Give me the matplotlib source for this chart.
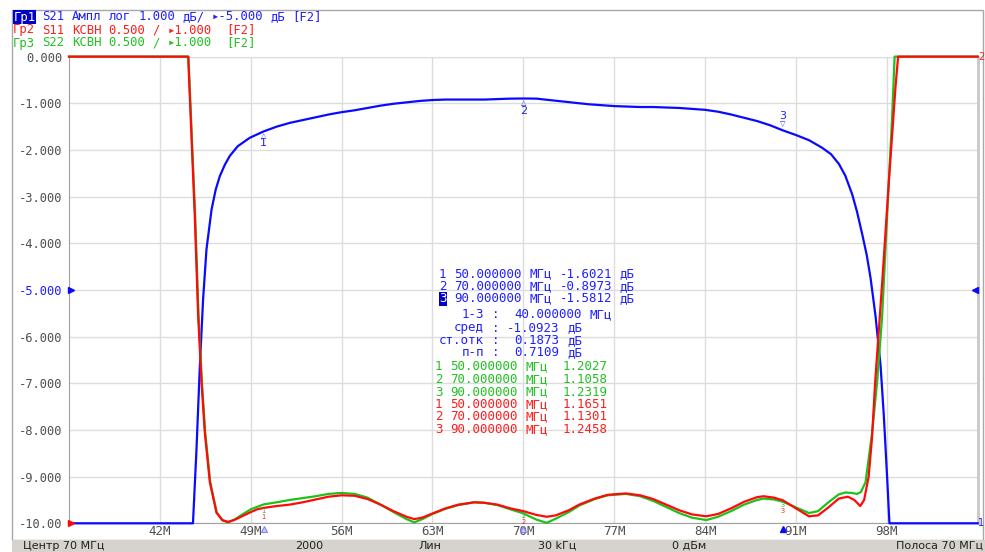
import re
import numpy as np
import matplotlib.pyplot as plt
from matplotlib.patches import Rectangle

W, H = 985, 552

# S21 transmission, dB (1 dB/div, ref -5 dB at centre)
s21_f = [35.0, 44.55, 44.82, 45.08, 45.33, 45.59, 45.98, 46.3, 46.62, 47.0, 47.38,
         48.0, 48.92, 50.0, 51.0, 52.0, 53.0, 54.0, 55.0, 56.0, 57.0, 58.0, 59.0,
         60.0, 61.0, 62.0, 63.0, 64.0, 65.0, 66.0, 67.0, 68.0, 69.0, 70.0, 71.0,
         72.0, 73.0, 74.0, 75.0, 76.0, 77.0, 78.0, 79.0, 80.0, 81.0, 82.0, 83.0,
         84.0, 85.0, 86.0, 87.0, 88.0, 89.0, 90.0, 91.0, 92.0, 93.0, 93.7, 94.31,
         94.8, 95.33, 95.7, 96.1, 96.45, 96.75, 97.13, 97.52, 97.77, 98.02, 98.2, 105.0]
s21_db = [-10.0, -10.0, -8.42, -6.63, -5.2, -4.13, -3.28, -2.85, -2.56, -2.32, -2.13,
          -1.92, -1.74, -1.6021, -1.50, -1.42, -1.36, -1.30, -1.24, -1.19, -1.15, -1.10, -1.05,
          -1.01, -0.98, -0.95, -0.93, -0.92, -0.92, -0.92, -0.92, -0.91, -0.90, -0.8973, -0.90,
          -0.93, -0.96, -0.99, -1.02, -1.04, -1.06, -1.07, -1.08, -1.08, -1.09, -1.10, -1.12,
          -1.14, -1.18, -1.24, -1.31, -1.38, -1.47, -1.5812, -1.68, -1.79, -1.95, -2.09, -2.30,
          -2.55, -2.95, -3.32, -3.80, -4.25, -4.75, -5.56, -6.63, -7.7, -9.0, -10.0, -10.0]

# S11 VSWR (0.5/div, ref 1.000 at bottom line)
s11_f = [35.0, 44.18, 44.69, 44.95, 45.21, 45.46, 45.85, 46.36, 46.8, 47.25, 47.8,
         48.4, 48.92, 49.5, 50.0, 51.0, 52.0, 53.0, 54.0, 55.0, 56.0, 57.0, 58.0,
         59.0, 60.0, 61.0, 61.6, 62.2, 63.0, 64.0, 65.0, 66.2, 67.0, 68.0, 69.0,
         70.0, 71.0, 71.8, 72.5, 73.5, 74.3, 75.5, 76.5, 77.9, 79.0, 80.0, 81.0,
         82.0, 83.0, 84.1, 85.0, 86.0, 87.0, 88.0, 88.5, 89.3, 90.0, 91.0, 92.0,
         92.7, 93.5, 94.3, 95.0, 95.5, 95.95, 96.25, 96.6, 96.85, 97.1, 97.64, 98.15,
         98.67, 98.87, 105.0]
s11_vswr = [6.0, 6.0, 4.29, 3.22, 2.51, 1.975, 1.44, 1.115, 1.035, 1.015, 1.04,
            1.08, 1.115, 1.15, 1.1651, 1.185, 1.20, 1.225, 1.255, 1.285, 1.30, 1.295, 1.26,
            1.20, 1.13, 1.07, 1.045, 1.06, 1.105, 1.16, 1.20, 1.225, 1.22, 1.20, 1.16,
            1.1301, 1.09, 1.07, 1.085, 1.14, 1.20, 1.265, 1.305, 1.32, 1.30, 1.26, 1.20,
            1.14, 1.095, 1.075, 1.10, 1.16, 1.23, 1.28, 1.29, 1.275, 1.2458, 1.16, 1.075,
            1.085, 1.17, 1.265, 1.285, 1.25, 1.185, 1.25, 1.50, 1.90, 2.51, 3.575, 4.65,
            5.68, 6.0, 6.0]

# S22 VSWR
s22_f = [35.0, 44.2, 44.72, 44.98, 45.24, 45.49, 45.88, 46.38, 46.85, 47.25, 47.7,
         48.3, 49.0, 50.0, 51.0, 52.0, 53.0, 54.0, 55.0, 56.0, 57.0, 58.0, 59.0,
         60.0, 61.0, 61.6, 62.3, 63.0, 64.0, 65.0, 66.2, 67.0, 68.0, 69.0, 70.0,
         71.0, 71.8, 72.5, 73.5, 74.3, 75.5, 76.5, 77.9, 79.0, 80.0, 81.0, 82.0,
         83.0, 84.1, 85.0, 86.0, 87.0, 88.0, 88.5, 89.3, 90.0, 91.0, 92.0, 92.7,
         93.5, 94.3, 94.8, 95.3, 95.7, 96.0, 96.36, 96.87, 97.25, 97.64, 98.02, 98.41,
         98.6, 105.0]
s22_vswr = [6.0, 6.0, 4.29, 3.22, 2.51, 1.975, 1.44, 1.115, 1.03, 1.01, 1.035,
            1.09, 1.15, 1.2027, 1.225, 1.25, 1.27, 1.29, 1.315, 1.325, 1.315, 1.275, 1.20,
            1.12, 1.045, 1.01, 1.05, 1.10, 1.155, 1.195, 1.225, 1.22, 1.195, 1.15, 1.1058,
            1.04, 1.005, 1.05, 1.12, 1.19, 1.26, 1.30, 1.315, 1.29, 1.24, 1.175, 1.11,
            1.06, 1.035, 1.07, 1.13, 1.20, 1.25, 1.265, 1.255, 1.2319, 1.17, 1.11, 1.13,
            1.225, 1.31, 1.33, 1.325, 1.315, 1.335, 1.44, 1.975, 2.51, 3.22, 4.29, 5.36,
            6.0, 6.0]

# markers
mk_f = [50.0, 70.0, 90.0]
mk_s21 = [-1.6021, -0.8973, -1.5812]
mk_s22 = [1.2027, 1.1058, 1.2319]
mk_s11 = [1.1651, 1.1301, 1.2458]
stat_span = 40.0
stat_mean = -1.0923
stat_std = 0.1873
stat_pp = 0.7109

xticks = [42, 49, 56, 63, 70, 77, 84, 91, 98]
yticks = [0, -1, -2, -3, -4, -5, -6, -7, -8, -9, -10]
ylabels = ["0.000", "-1.000", "-2.000", "-3.000", "-4.000", "-5.000",
           "-6.000", "-7.000", "-8.000", "-9.000", "-10.00"]

BLUE = "#0a0aff"
RED = "#ff0a0a"
GREEN = "#1cc21c"
TBLUE = "#2020ff"
TRED = "#ff1e1e"
TGREEN = "#22c022"
GRAY = "#505050"
MONO = ["DejaVu Sans Mono", "DejaVu Sans"]


def vswr_to_grid(v):
    # VSWR trace: 1.000 on bottom line, 0.5 per division
    return -10 + (np.asarray(v) - 1.0) / 0.5


def fx(x):
    return x / W


def fy(y):
    return 1 - y / H


def mono_line(x0, y, line, color, size, **kw):
    # one text per word, placed on the character grid of a monospaced font
    cw = size / 72 * 100 * 0.602
    for m in re.finditer(r"\S+", line):
        fig.text(fx(x0 + m.start() * cw), fy(y), m.group(), color=color, fontsize=size,
                 family=MONO, va="center", **kw)


fig = plt.figure(figsize=(W / 100, H / 100), dpi=100)

# outer frame and status bar
fig.add_artist(Rectangle((fx(12), fy(540)), (983 - 12) / W, (540 - 10) / H,
                         transform=fig.transFigure, fill=False, edgecolor="#a8a8a8", lw=1))
fig.add_artist(Rectangle((fx(12), 0), (W - 12) / W, 12 / H, transform=fig.transFigure,
                         facecolor="#d6d3ce", edgecolor="none"))

ax = fig.add_axes([fx(69), fy(523.3), 908.7 / W, 466.67 / H])
ax.set_xlim(35, 105)
ax.set_ylim(-10, 0)
ax.set_xticks(xticks)
ax.set_xticklabels([f"{t}M" for t in xticks])
ax.set_yticks(yticks)
ax.set_yticklabels(ylabels)
ax.tick_params(length=0)
ax.tick_params(axis="y", pad=4.5, labelsize=8.7, labelcolor=GRAY, labelfontfamily="DejaVu Sans Mono")
ax.tick_params(axis="x", pad=1.5, labelsize=9, labelcolor=GRAY, labelfontfamily="DejaVu Sans Mono")
ax.get_yticklabels()[5].set_color(TBLUE)
ax.grid(True, color="#dcdcdc", lw=1)
for side in ("left", "bottom"):
    ax.spines[side].set_color("#a0a0a0")
ax.spines["top"].set_color("#dcdcdc")
ax.spines["right"].set_color("#c8c8c8")
ax.spines["right"].set_linewidth(2)

ax.plot(s21_f, s21_db, color=BLUE, lw=1.6, clip_on=False, zorder=3)
ax.plot(s22_f, vswr_to_grid(s22_vswr), color=GREEN, lw=1.6, clip_on=False, zorder=4)
ax.plot(s11_f, vswr_to_grid(s11_vswr), color=RED, lw=1.6, clip_on=False, zorder=5)

# S21 marker flags
for i, (f, v) in enumerate(zip(mk_f, mk_s21)):
    if i < 2:
        ax.annotate("△", (f, v), xytext=(0, -5), textcoords="offset pixels", ha="center",
                    va="center", fontsize=5, color=TBLUE, zorder=6)
        ax.annotate(str(i + 1), (f, v), xytext=(0, -12), textcoords="offset pixels",
                    ha="center", va="center", fontsize=8, color=TBLUE, zorder=6)
    else:
        ax.annotate("▽", (f, v), xytext=(0, 6), textcoords="offset pixels", ha="center",
                    va="center", fontsize=5, color=TBLUE, zorder=6)
        ax.annotate(str(i + 1), (f, v), xytext=(0, 14), textcoords="offset pixels",
                    ha="center", va="center", fontsize=8, color=TBLUE, zorder=6)

# VSWR marker flags, stacked under the lower of the two traces
for i, f in enumerate(mk_f):
    y_low = min(vswr_to_grid(mk_s22[i]), vswr_to_grid(mk_s11[i]))
    ax.annotate(str(i + 1), (f, y_low), xytext=(0, -3), textcoords="offset pixels",
                ha="center", va="center", fontsize=4.8, color=TGREEN, zorder=6)
    ax.annotate(str(i + 1), (f, y_low), xytext=(0, -9), textcoords="offset pixels",
                ha="center", va="center", fontsize=4.8, color=TRED, zorder=6)

# stimulus markers under the axis
ax.plot(mk_f[:2], [-10.12] * 2, ls="none", marker="^", ms=4.5, mfc="#c8c8ff",
        mec="#8080ff", mew=0.8, clip_on=False, zorder=6)
ax.plot(mk_f[2], -10.12, ls="none", marker="^", ms=4.5, color=BLUE, clip_on=False, zorder=6)

# reference level pointers
ax.plot(35.15, -5, marker=">", ms=4, color=BLUE, clip_on=False, zorder=6)
ax.plot(35.15, -10, marker=">", ms=4, color=RED, clip_on=False, zorder=7)
ax.plot(104.8, -5, marker="<", ms=4, color=BLUE, clip_on=False, zorder=6)
fig.text(fx(981), fy(57), "2", color=TRED, fontsize=7, ha="center", va="center")
fig.text(fx(981), fy(523), "1", color=TBLUE, fontsize=7, ha="center", va="center")

# channel header
HS = 8.8
fig.text(fx(13.5), fy(17), "Гр1", color="white", fontsize=HS, family=MONO, va="center",
         bbox=dict(facecolor="#0000c8", edgecolor="none", pad=0.6))
mono_line(13, 17, "    S21 Ампл лог 1.000 дБ/ ▸-5.000 дБ [F2]", TBLUE, HS)
mono_line(13, 30, "Гр2 S11 КСВН 0.500 / ▸1.000  [F2]", TRED, HS)
mono_line(13, 43, "Гр3 S22 КСВН 0.500 / ▸1.000  [F2]", TGREEN, HS)

# marker table
TS = 9
blue_rows = [274, 286.5, 299]
for i, (f, v, y) in enumerate(zip(mk_f, mk_s21, blue_rows)):
    if i == 2:
        fig.text(fx(439), fy(y), str(i + 1), color="white", fontsize=TS, family=MONO,
                 va="center", bbox=dict(facecolor="#0000c8", edgecolor="none", pad=0.3))
        mono_line(439, y, f"  {f:.6f} МГц {v:.4f} дБ", TBLUE, TS)
    else:
        mono_line(439, y, f"{i + 1} {f:.6f} МГц {v:.4f} дБ", TBLUE, TS)

stats = [f"   1-3 :  {stat_span:.6f} МГц",
         f"  сред : {stat_mean:.4f} дБ",
         f"ст.отк :  {stat_std:.4f} дБ",
         f"   п-п :  {stat_pp:.4f} дБ"]
for s, y in zip(stats, [314.5, 328, 340.5, 353]):
    mono_line(439, y, s, TBLUE, TS)

rows = [(mk_s22, TGREEN, [367, 379.5, 392]), (mk_s11, TRED, [404.5, 417, 429.5])]
for vals, col, ys in rows:
    for i, (f, v, y) in enumerate(zip(mk_f, vals, ys)):
        mono_line(435, y, f"{i + 1} {f:.6f} МГц  {v:.4f}", col, TS)

# status bar
sb = dict(fontsize=8, color="#202020", va="center")
fig.text(fx(23), fy(546), "Центр 70 МГц", ha="left", **sb)
fig.text(fx(309), fy(546), "2000", ha="center", **sb)
fig.text(fx(430), fy(546), "Лин", ha="center", **sb)
fig.text(fx(557), fy(546), "30 kГц", ha="center", **sb)
fig.text(fx(689), fy(546), "0 дБм", ha="center", **sb)
fig.text(fx(983), fy(546), "Полоса 70 МГц", ha="right", **sb)

fig.savefig("out.png", dpi=100)
